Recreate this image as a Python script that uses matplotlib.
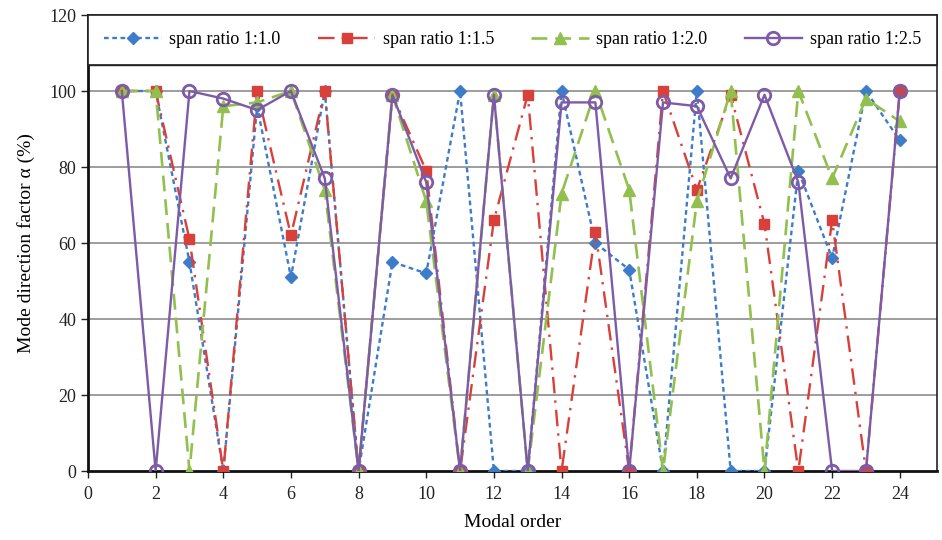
import matplotlib
matplotlib.use("Agg")
import matplotlib.pyplot as plt

plt.rcParams['font.family'] = ['Liberation Serif', 'DejaVu Serif']

modal_order = list(range(1, 25))

ratio_1_0 = [100, 100, 55, 0, 96, 51, 100, 0, 55, 52, 100, 0,
             0, 100, 60, 53, 0, 100, 0, 0, 79, 56, 100, 87]
ratio_1_5 = [100, 100, 61, 0, 100, 62, 100, 0, 99, 79, 0, 66,
             99, 0, 63, 0, 100, 74, 99, 65, 0, 66, 0, 100]
ratio_2_0 = [100, 100, 0, 96, 97, 100, 74, 0, 99, 71, 0, 99,
             0, 73, 100, 74, 0, 71, 100, 0, 100, 77, 98, 92]
ratio_2_5 = [100, 0, 100, 98, 95, 100, 77, 0, 99, 76, 0, 99,
             0, 97, 97, 0, 97, 96, 77, 99, 76, 0, 0, 100]

labels = ["span ratio 1:1.0", "span ratio 1:1.5", "span ratio 1:2.0", "span ratio 1:2.5"]
x_ticks = list(range(0, 25, 2))
y_ticks = list(range(0, 121, 20))

fig = plt.figure(figsize=(9.42, 5.40), dpi=100)
ax = fig.add_axes([88 / 942, 1 - 471 / 540, (937 - 88) / 942, (471 - 15) / 540])

blue, red, green, purple = "#3d7cc9", "#d9403a", "#92c04e", "#7d5ba6"

ax.plot(modal_order, ratio_1_0, color=blue, linestyle=(0, (2, 1.5)), linewidth=1.7,
        marker="D", markersize=6, markerfacecolor=blue, markeredgecolor=blue,
        label=labels[0], zorder=3)
ax.plot(modal_order, ratio_1_5, color=red, linestyle=(0, (7, 3, 1, 3)), linewidth=1.7,
        marker="s", markersize=7, markerfacecolor=red, markeredgecolor=red,
        label=labels[1], zorder=4)
ax.plot(modal_order, ratio_2_0, color=green, linestyle=(0, (6, 3)), linewidth=1.9,
        marker="^", markersize=8, markerfacecolor=green, markeredgecolor=green,
        label=labels[2], zorder=5)
ax.plot(modal_order, ratio_2_5, color=purple, linestyle="-", linewidth=1.7,
        marker="o", markersize=9, markerfacecolor="none", markeredgecolor=purple,
        markeredgewidth=2, label=labels[3], zorder=6)

ax.set_xlim(0, 25.1)
ax.set_ylim(0, 120)
ax.set_xticks(x_ticks)
ax.set_yticks(y_ticks)
ax.tick_params(axis="both", direction="out", length=5, width=1, labelsize=13,
               colors="#222222")
ax.tick_params(axis="x", pad=6)

for v in y_ticks[1:-1]:
    ax.axhline(v, color="#8c8c8c", linewidth=1.2, zorder=1)

ax.spines["left"].set_linewidth(2)
ax.spines["bottom"].set_linewidth(2)
ax.spines["left"].set_color("#111111")
ax.spines["bottom"].set_color("#111111")
ax.spines["top"].set_linewidth(1.2)
ax.spines["right"].set_linewidth(1.2)
ax.spines["top"].set_color("#222222")
ax.spines["right"].set_color("#222222")

ax.set_xlabel("Modal order", fontsize=14, labelpad=8)
ax.set_ylabel("Mode direction factor α (%)", fontsize=14, labelpad=10)

# legend band across the top of the plot area
leg = ax.legend(loc="upper left", bbox_to_anchor=(0, 0, 1, 1),
                mode="expand", ncol=4, frameon=True, fancybox=False, fontsize=13,
                handlelength=3.2, handletextpad=0.4, columnspacing=1.0,
                borderaxespad=0, borderpad=0.9)
frame = leg.get_frame()
frame.set_edgecolor("#222222")
frame.set_linewidth(1.2)
frame.set_facecolor("white")
frame.set_alpha(1)
leg.set_zorder(10)
ax.axhline(106.9, color="#222222", linewidth=1.0, zorder=11)

fig.savefig("out.png", dpi=100, facecolor="white")
